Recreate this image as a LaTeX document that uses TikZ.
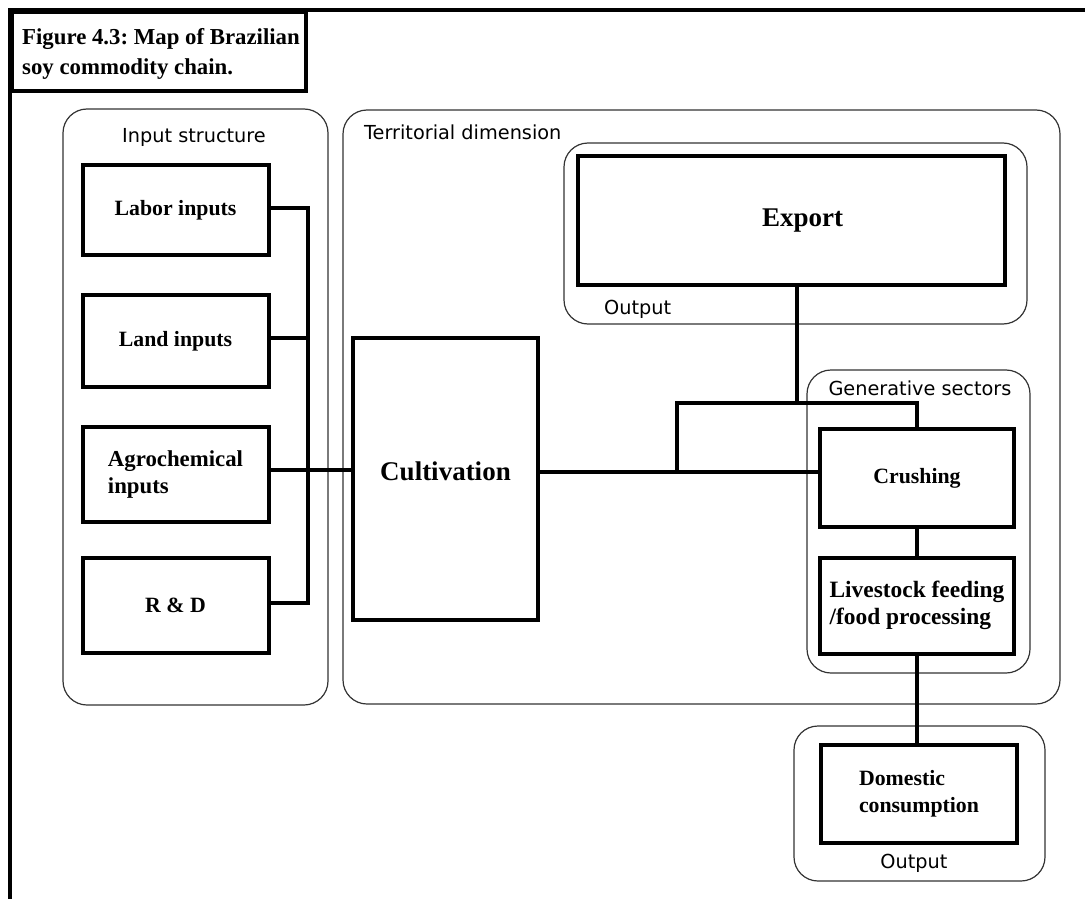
\documentclass[tikz,border=0pt]{standalone}
\usepackage{fontspec}
\setmainfont{Liberation Serif}
\newfontfamily\labfont{DejaVu Sans}
\frenchspacing
\begin{document}
\begin{tikzpicture}[x=1pt,y=-1pt,
  group/.style={draw=black!80,line width=1.2pt,rounded corners=24pt,inner sep=0pt},
  box/.style={draw=black,line width=4pt,inner sep=0pt,align=center,
    font=\fontsize{21.8}{27}\selectfont\bfseries},
  bigbox/.style={box,font=\fontsize{27}{32}\selectfont\bfseries},
  conn/.style={draw=black,line width=4pt},
  grouplabel/.style={inner sep=0pt,font=\labfont\fontsize{19.3}{23}\selectfont},
  titlebox/.style={draw=black,line width=4pt,inner sep=0pt,minimum width=294pt,minimum height=79pt}]
\useasboundingbox (0,0) rectangle (1085,899);

% outer frame and title
\draw[line width=4pt] (10,899) -- (10,10) -- (1085,10);
\node[titlebox,anchor=north west] (titlebox) at (10,10) {};
\node[anchor=north west,inner sep=0pt,align=left,
      font=\fontsize{22.8}{30}\selectfont\bfseries] (title) at (22,28)
  {Figure 4.3: Map of Brazilian\\soy commodity chain.};

% grouping frames
\node[group,minimum width=265pt,minimum height=596pt] (inputs) at (195.5,407) {};
\node[group,minimum width=717pt,minimum height=594pt] (territory) at (701.5,407) {};
\node[group,minimum width=463pt,minimum height=181pt] (outexp) at (795.5,233.5) {};
\node[group,minimum width=223pt,minimum height=303pt] (gener) at (918.5,521.5) {};
\node[group,minimum width=251pt,minimum height=155pt] (outdom) at (919.5,803.5) {};

\node[grouplabel] (inputs-l) at (194,137) {Input structure};
\node[grouplabel,anchor=west] (territory-l) at (364,132) {Territorial dimension};
\node[grouplabel,anchor=west] (outexp-l) at (604,309) {Output};
\node[grouplabel] (gener-l) at (920,388) {Generative sectors};
\node[grouplabel] (outdom-l) at (914,863) {Output};

% stages
\node[box,minimum width=186pt,minimum height=90pt] (labor) at (175.5,210) {\raisebox{3pt}{Labor inputs}};
\node[box,minimum width=186pt,minimum height=92pt] (land) at (175.5,341) {Land inputs};
\node[box,minimum width=186pt,minimum height=95pt,align=left,
      font=\fontsize{22.8}{27}\selectfont\bfseries] (agro) at (175.5,474.5)
  {\raisebox{2pt}{\begin{tabular}{@{}l@{}}Agrochemical\\inputs\end{tabular}}};
\node[box,minimum width=186pt,minimum height=95pt] (rd) at (175.5,605.5) {R \& D};
\node[bigbox,minimum width=185pt,minimum height=282pt] (cult) at (445.5,479) {\raisebox{15pt}{Cultivation}};
\node[bigbox,minimum width=427pt,minimum height=129pt] (export) at (791.5,220.5) {\hspace*{22pt}Export};
\node[box,minimum width=194pt,minimum height=98pt] (crush) at (917,478) {Crushing};
\node[box,minimum width=194pt,minimum height=96pt,
      font=\fontsize{23.4}{27}\selectfont\bfseries] (live) at (917,606)
  {\raisebox{2pt}{\begin{tabular}{@{}l@{}}Livestock feeding\\/food processing\end{tabular}}};
\node[box,minimum width=196pt,minimum height=98pt] (dom) at (919,794)
  {\raisebox{1pt}{\begin{tabular}{@{}l@{}}Domestic\\consumption\end{tabular}}};

% input bus
\coordinate (busT) at (308,208);
\coordinate (busB) at (308,603);
\draw[conn] ([yshift=2pt]labor.east) -- (busT) -- (busB) -- ([yshift=2.5pt]rd.east);
\draw[conn] ([yshift=3pt]land.east) -- ([yshift=3pt]land.east -| busT);
\draw[conn] ([yshift=4.5pt]agro.east) -- ([yshift=4.5pt]agro.east -| cult.west);

% cultivation to processing and export
\coordinate (main) at ([yshift=7pt]cult.east);
\coordinate (jn) at (677,472);
\coordinate (bar) at (797,403);
\draw[conn] (main) -- (main -| crush.west);
\draw[conn] (jn) -- (jn |- bar) -- (bar -| crush.north) -- (crush.north);
\draw[conn] (export.south -| bar) -- (bar);
\draw[conn] (crush.south) -- (live.north);
\draw[conn] (live.south) -- (live.south |- dom.north);
\end{tikzpicture}
\end{document}
